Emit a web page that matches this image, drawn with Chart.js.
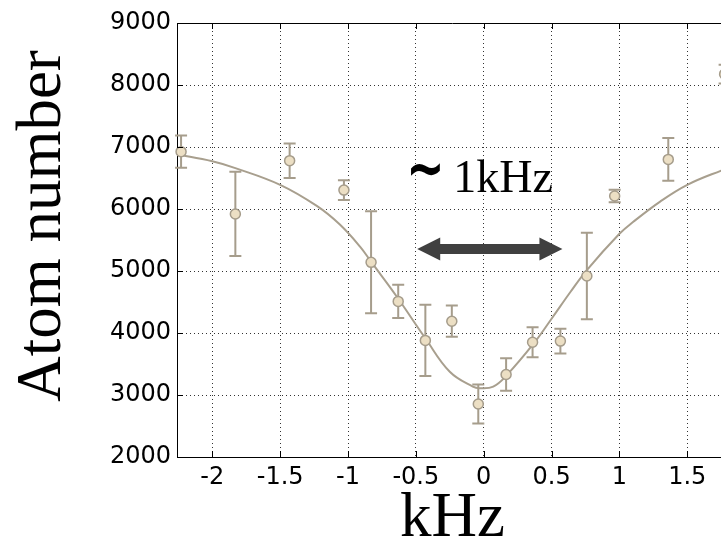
<!DOCTYPE html>
<html>
<head>
<meta charset="utf-8">
<script src="https://cdn.jsdelivr.net/npm/chart.js@4.4.1/dist/chart.umd.min.js"></script>
<style>
  html, body { margin: 0; padding: 0; background: #fff; overflow: hidden; }
  #wrap { width: 740px; height: 540px; }
</style>
</head>
<body>
<div id="wrap"><canvas id="chart" width="740" height="540"></canvas></div>
<script>
// measured points (kHz, atom number, error bar half-height)
const freqs  = [-2.23, -1.83, -1.43, -1.03, -0.83, -0.63, -0.43, -0.235, -0.04, 0.165, 0.36, 0.565, 0.76, 0.965, 1.36, 1.775];
const atoms  = [6925, 5920, 6780, 6305, 5140, 4510, 3880, 4190, 2855, 3330, 3850, 3870, 4920, 6210, 6800, 8175];
const errors = [260, 680, 278, 160, 823, 270, 575, 252, 316, 262, 242, 200, 698, 100, 344, 150];

// fitted curve
const fitFreqs = [-2.26, -2.0, -1.83, -1.5, -1.23, -1.06, -0.91, -0.83, -0.64, -0.43, -0.25, -0.08, -0.03, 0.07, 0.17, 0.37, 0.5, 0.64, 0.76, 1.0, 1.1, 1.3, 1.5, 1.75, 1.81];
const fitAtoms = [6880, 6770, 6660, 6390, 6050, 5750, 5390, 5150, 4585, 3915, 3375, 3135, 3110, 3135, 3320, 3835, 4230, 4665, 5015, 5600, 5790, 6120, 6390, 6620, 6660];

const xTicks = [-2, -1.5, -1, -0.5, 0, 0.5, 1, 1.5];
const yTicks = [2000, 3000, 4000, 5000, 6000, 7000, 8000, 9000];

const errColor = "#a69d8c";

const extras = {
  id: "extras",
  beforeDatasetsDraw(chart) {
    const ctx = chart.ctx;
    const xs = chart.scales.x, ys = chart.scales.y;
    ctx.save();
    ctx.strokeStyle = errColor;
    ctx.lineWidth = 2;
    freqs.forEach((f, i) => {
      const px = xs.getPixelForValue(f);
      const top = ys.getPixelForValue(atoms[i] + errors[i]);
      const bot = ys.getPixelForValue(atoms[i] - errors[i]);
      ctx.beginPath();
      ctx.moveTo(px, top); ctx.lineTo(px, bot);
      ctx.moveTo(px - 6, top); ctx.lineTo(px + 6, top);
      ctx.moveTo(px - 6, bot); ctx.lineTo(px + 6, bot);
      ctx.stroke();
    });
    ctx.restore();
  },
  afterDraw(chart) {
    const ctx = chart.ctx;
    const xs = chart.scales.x, ys = chart.scales.y;
    const area = chart.chartArea;
    ctx.save();

    // solid top frame and inward tick marks
    ctx.strokeStyle = "#000";
    ctx.lineWidth = 1;
    ctx.beginPath();
    ctx.moveTo(area.left, area.top + 0.5);
    ctx.lineTo(area.right, area.top + 0.5);
    xTicks.forEach((t) => {
      const px = Math.round(xs.getPixelForValue(t)) + 0.5;
      ctx.moveTo(px, area.bottom); ctx.lineTo(px, area.bottom - 6);
      ctx.moveTo(px, area.top); ctx.lineTo(px, area.top + 6);
    });
    yTicks.forEach((t) => {
      const py = Math.round(ys.getPixelForValue(t)) + 0.5;
      ctx.moveTo(area.left, py); ctx.lineTo(area.left + 6, py);
    });
    ctx.stroke();

    // double arrow "~1kHz"
    const xl = xs.getPixelForValue(-0.49);
    const xr = xs.getPixelForValue(0.58);
    const ya = ys.getPixelForValue(5355);
    const head = 23, hh = 11.5, sh = 5;
    ctx.fillStyle = "#404040";
    ctx.beginPath();
    ctx.moveTo(xl, ya);
    ctx.lineTo(xl + head, ya - hh);
    ctx.lineTo(xl + head, ya - sh);
    ctx.lineTo(xr - head, ya - sh);
    ctx.lineTo(xr - head, ya - hh);
    ctx.lineTo(xr, ya);
    ctx.lineTo(xr - head, ya + hh);
    ctx.lineTo(xr - head, ya + sh);
    ctx.lineTo(xl + head, ya + sh);
    ctx.lineTo(xl + head, ya + hh);
    ctx.closePath();
    ctx.fill();

    ctx.fillStyle = "#000";
    ctx.save();
    ctx.translate(xs.getPixelForValue(-0.43), ys.getPixelForValue(6581));
    ctx.scale(1, 1.35);
    ctx.font = 'bold 46px "DejaVu Sans"';
    ctx.textAlign = "center";
    ctx.textBaseline = "middle";
    ctx.fillText("\u223C", 0, 0);
    ctx.restore();

    ctx.font = '46px "Liberation Serif"';
    ctx.textAlign = "left";
    ctx.textBaseline = "alphabetic";
    ctx.fillText("1kHz", xs.getPixelForValue(-0.225), ys.getPixelForValue(6274));

    // axis titles
    ctx.font = '63px "Liberation Serif"';
    ctx.textAlign = "center";
    ctx.fillText("kHz", (area.left + area.right) / 2, 536);

    ctx.translate(60, 226);
    ctx.rotate(-Math.PI / 2);
    ctx.fillText("Atom number", 0, 0);

    ctx.restore();
  }
};

const ctx = document.getElementById("chart").getContext("2d");
new Chart(ctx, {
  type: "scatter",
  data: {
    datasets: [
      {
        label: "data",
        data: freqs.map((f, i) => ({ x: f, y: atoms[i] })),
        pointRadius: 5,
        pointBackgroundColor: "#ecdfc4",
        pointBorderColor: "#a59c8b",
        pointBorderWidth: 1.5,
        showLine: false,
        clip: false,
        order: 1,
      },
      {
        type: "line",
        label: "fit",
        data: fitFreqs.map((f, i) => ({ x: f, y: fitAtoms[i] })),
        borderColor: "#a89f8e",
        borderWidth: 2,
        pointRadius: 0,
        tension: 0.4,
        order: 2,
      },
    ],
  },
  options: {
    responsive: false,
    animation: false,
    devicePixelRatio: 1,
    layout: { padding: { top: 23, right: 12, left: 0, bottom: 0 } },
    plugins: {
      legend: { display: false },
      tooltip: { enabled: false },
    },
    scales: {
      x: {
        type: "linear",
        min: -2.26,
        max: 1.8,
        afterFit: (scale) => { scale.height = 83; },
        afterBuildTicks: (scale) => { scale.ticks = xTicks.map((v) => ({ value: v })); },
        ticks: {
          color: "#000",
          font: { family: "DejaVu Sans", size: 24 },
          padding: 6,
          maxRotation: 0,
          callback: (v) => String(v),
        },
        grid: { color: "#333", lineWidth: 1, drawTicks: false },
        border: { color: "#000", width: 1, dash: [1, 3] },
      },
      y: {
        min: 2000,
        max: 9000,
        afterFit: (scale) => { scale.width = 177; },
        afterBuildTicks: (scale) => { scale.ticks = yTicks.map((v) => ({ value: v })); },
        ticks: {
          color: "#000",
          font: { family: "DejaVu Sans", size: 24 },
          padding: 6,
          callback: (v) => String(v),
        },
        grid: { color: "#333", lineWidth: 1, drawTicks: false },
        border: { color: "#000", width: 1, dash: [1, 3] },
      },
    },
  },
  plugins: [extras],
});
</script>
</body>
</html>
